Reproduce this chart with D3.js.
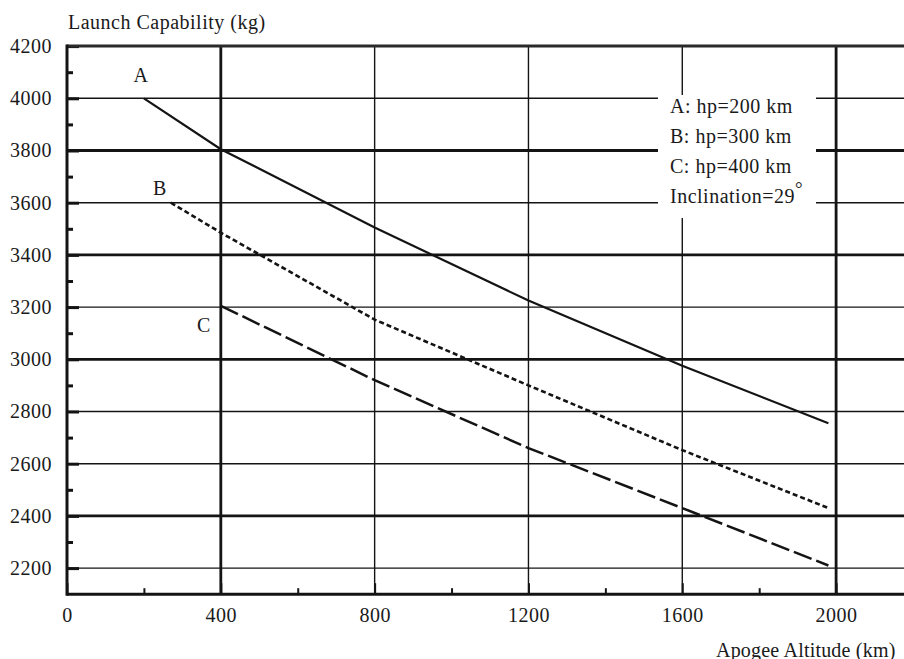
<!DOCTYPE html>
<html>
<head>
<meta charset="utf-8">
<script src="https://cdn.jsdelivr.net/npm/d3@7"></script>
<style>
  html, body { margin: 0; padding: 0; background: #fff; }
  svg { display: block; }
  text { font-family: "Liberation Serif", "Times New Roman", serif; font-size: 20px; letter-spacing: 0.5px; fill: #1a1a1a; }
</style>
</head>
<body>
<svg id="chart" width="904" height="659"></svg>
<script>
// ---- data ----
const xTickValues = [0, 400, 800, 1200, 1600, 2000];
const xMinorValues = [200, 600, 1000, 1400, 1800, 2200];
const yTickValues = [2200, 2400, 2600, 2800, 3000, 3200, 3400, 3600, 3800, 4000, 4200];
const yMinorValues = [2300, 2500, 2700, 2900, 3100, 3300, 3500, 3700, 3900, 4100];

// apogee altitude (km) and capability (kg) for each perigee altitude
const curveA_apogee = [200, 400, 800, 1200, 1600, 1980];
const curveA_mass   = [4000, 3805, 3505, 3225, 2975, 2755];
const curveB_apogee = [270, 400, 800, 1200, 1600, 1980];
const curveB_mass   = [3600, 3485, 3152, 2900, 2652, 2430];
const curveC_apogee = [400, 800, 1200, 1600, 1980];
const curveC_mass   = [3205, 2920, 2660, 2430, 2210];

const curveNames = ["A", "B", "C"];
const legendLines = ["A: hp=200 km", "B: hp=300 km", "C: hp=400 km", "Inclination=29"];

// gridlines drawn heavier
const yHeavy = [3800, 3400, 3000, 2400];
const xHeavy = [400, 2000];

// ---- layout ----
const svg = d3.select("#chart");
const W = 904, H = 659;
const plotLeft = 67, plotTop = 46.1, plotBottom = 594.2;

const x = d3.scaleLinear().domain([0, 2200]).range([plotLeft, plotLeft + 2200 * 0.38455]);
const y = d3.scaleLinear().domain([2100, 4200]).range([plotBottom, plotTop]);

const ink = "#141414";

// gridlines
const grid = svg.append("g");
grid.selectAll("line.h").data(yTickValues.filter(v => v < 4200)).join("line")
  .attr("class", "h")
  .attr("x1", plotLeft).attr("x2", W + 10)
  .attr("y1", d => y(d)).attr("y2", d => y(d))
  .attr("stroke", ink)
  .attr("stroke-width", d => yHeavy.includes(d) ? 2.8 : 1.4);
grid.selectAll("line.v").data(xTickValues.filter(v => v > 0)).join("line")
  .attr("class", "v")
  .attr("x1", d => x(d)).attr("x2", d => x(d))
  .attr("y1", plotTop).attr("y2", plotBottom)
  .attr("stroke", ink)
  .attr("stroke-width", d => xHeavy.includes(d) ? 2.8 : 1.4);

// legend box blanks the grid behind the notes
svg.append("rect")
  .attr("x", 658).attr("y", 95).attr("width", 158).attr("height", 123)
  .attr("fill", "#fff");

// y axis: labelled major ticks and short minor ticks, both pointing inward
const yAxis = svg.append("g").attr("transform", `translate(${plotLeft},0)`)
  .call(d3.axisLeft(y).tickValues(yTickValues).tickSize(-12).tickPadding(15).tickFormat(d3.format("d")));
yAxis.select(".domain").remove();
yAxis.selectAll(".tick line").attr("stroke", ink).attr("stroke-width", 3);
yAxis.selectAll(".tick text").attr("fill", null);
yAxis.attr("font-size", null).attr("font-family", null);

const yMinor = svg.append("g").attr("transform", `translate(${plotLeft},0)`)
  .call(d3.axisLeft(y).tickValues(yMinorValues).tickSize(-6).tickFormat(""));
yMinor.select(".domain").remove();
yMinor.selectAll(".tick line").attr("stroke", ink).attr("stroke-width", 3);

// x axis
const xAxis = svg.append("g").attr("transform", `translate(0,${plotBottom})`)
  .call(d3.axisBottom(x).tickValues(xTickValues).tickSize(-11).tickPadding(14).tickFormat(d3.format("d")));
xAxis.select(".domain").remove();
xAxis.selectAll(".tick line").attr("stroke", ink).attr("stroke-width", 2);
xAxis.selectAll(".tick text").attr("fill", null);
xAxis.attr("font-size", null).attr("font-family", null);

const xMinor = svg.append("g").attr("transform", `translate(0,${plotBottom})`)
  .call(d3.axisBottom(x).tickValues(xMinorValues).tickSize(-6).tickFormat(""));
xMinor.select(".domain").remove();
xMinor.selectAll(".tick line").attr("stroke", ink).attr("stroke-width", 2);

// frame
const frame = svg.append("g").attr("stroke", ink).attr("stroke-width", 3).attr("fill", "none");
frame.append("line").attr("x1", plotLeft).attr("x2", W + 10).attr("y1", plotTop).attr("y2", plotTop).attr("stroke", "#2a2a2a");
frame.append("line").attr("x1", plotLeft).attr("x2", W + 10).attr("y1", plotBottom).attr("y2", plotBottom);
frame.append("line").attr("x1", plotLeft).attr("x2", plotLeft).attr("y1", plotTop - 1.5).attr("y2", plotBottom + 1.5);

// curves
const series = [
  { name: curveNames[0], xs: curveA_apogee, ys: curveA_mass, dash: null, w: 2.2, lab: [-3, -16] },
  { name: curveNames[1], xs: curveB_apogee, ys: curveB_mass, dash: "5,3", w: 2.6, lab: [-11, -8] },
  { name: curveNames[2], xs: curveC_apogee, ys: curveC_mass, dash: "19,5", w: 2.5, lab: [-17, 26] }
];
const line = d3.line().x(d => x(d[0])).y(d => y(d[1]));

series.forEach(s => {
  const pts = s.xs.map((v, i) => [v, s.ys[i]]);
  svg.append("path")
    .attr("d", line(pts))
    .attr("fill", "none")
    .attr("stroke", ink)
    .attr("stroke-width", s.w)
    .attr("stroke-dasharray", s.dash);
  svg.append("text")
    .attr("x", x(pts[0][0]) + s.lab[0])
    .attr("y", y(pts[0][1]) + s.lab[1])
    .attr("text-anchor", "middle")
    .text(s.name);
});

// notes
const notes = svg.append("g");
legendLines.forEach((t, i) => {
  const tx = notes.append("text").attr("x", 670).attr("y", 113.3 + i * 30).text(t);
  if (i === legendLines.length - 1) {
    tx.append("tspan").attr("dy", -8).attr("font-size", "19px").text("°");
  }
});

// axis titles
svg.append("text").attr("x", 68).attr("y", 28.5).text("Launch Capability (kg)");
svg.append("text").attr("x", 716).attr("y", 656.5).style("letter-spacing", "0.2px").text("Apogee Altitude (km)");
</script>
</body>
</html>
